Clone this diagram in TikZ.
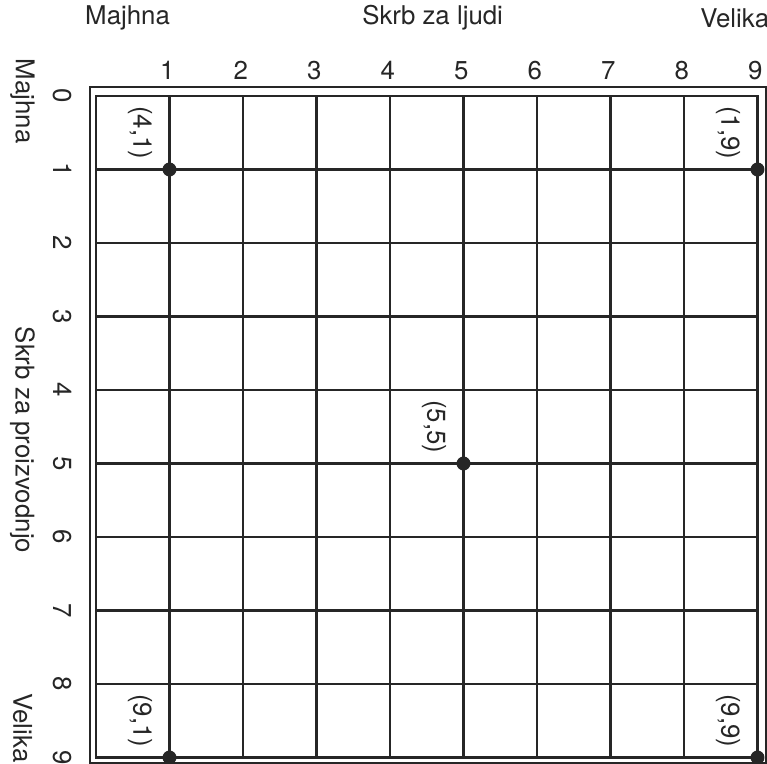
\documentclass[tikz,border=0pt]{standalone}
\usepackage{fontspec}
\setmainfont{TeX Gyre Heros}
\usetikzlibrary{positioning,calc}

\tikzset{
  gridline/.style={line width=0.8pt,black!85},
  dot/.style={circle,fill=black!85,inner sep=0pt,minimum size=0.19cm},
  ptlabel/.style={rotate=-90,font=\normalsize,black!85},
  axisnum/.style={font=\normalsize,black!85},
}

\begin{document}
\begin{tikzpicture}
    \useasboundingbox (-1.306,1.306) rectangle (9.129,-9.088);

    % frame and grid
    \draw [gridline] (-0.08,0.12) rectangle (9.12,-9.07);
    \draw [gridline] (0,0) rectangle (9,-9);
    \foreach \i in {1,...,8} {
      \draw [gridline] (\i,0) -- (\i,-9);
      \draw [gridline] (0,-\i) -- (9,-\i);
    }

    % top axis
    \foreach \i in {1,...,9} {
      \node [axisnum] (t\i) at (\i-0.03,0.35) {\i};
    }
    \node [axisnum] (tmin) at (0.43,1.06) {Majhna};
    \node [axisnum] (ttitle) at (4.58,1.06) {Skrb za ljudi};
    \node [axisnum] (tmax) at (8.69,1.06) {Velika};

    % left axis
    \foreach \i in {0,...,9} {
      \node [axisnum,rotate=-90] (l\i) at (-0.46,-\i) {\i};
    }
    \node [axisnum,rotate=-90] (lmin) at (-1.0,-0.07) {Majhna};
    \node [axisnum,rotate=-90] (ltitle) at (-1.0,-4.68) {Skrb za proizvodnjo};
    \node [axisnum,rotate=-90] (lmax) at (-1.0,-8.6) {Velika};

    % points
    \node [dot] (p41) at (1,-1) {};
    \node [dot] (p19) at (9,-1) {};
    \node [dot] (p55) at (5,-5) {};
    \node [dot] (p91) at (1,-9) {};
    \node [dot] (p99) at (9,-9) {};

    \node [ptlabel] (l41) at (0.6,-0.5) {(4,1)};
    \node [ptlabel] (l19) at (8.6,-0.5) {(1,9)};
    \node [ptlabel] (l55) at (4.6,-4.5) {(5,5)};
    \node [ptlabel] (l91) at (0.6,-8.5) {(9,1)};
    \node [ptlabel] (l99) at (8.6,-8.5) {(9,9)};
\end{tikzpicture}
\end{document}
